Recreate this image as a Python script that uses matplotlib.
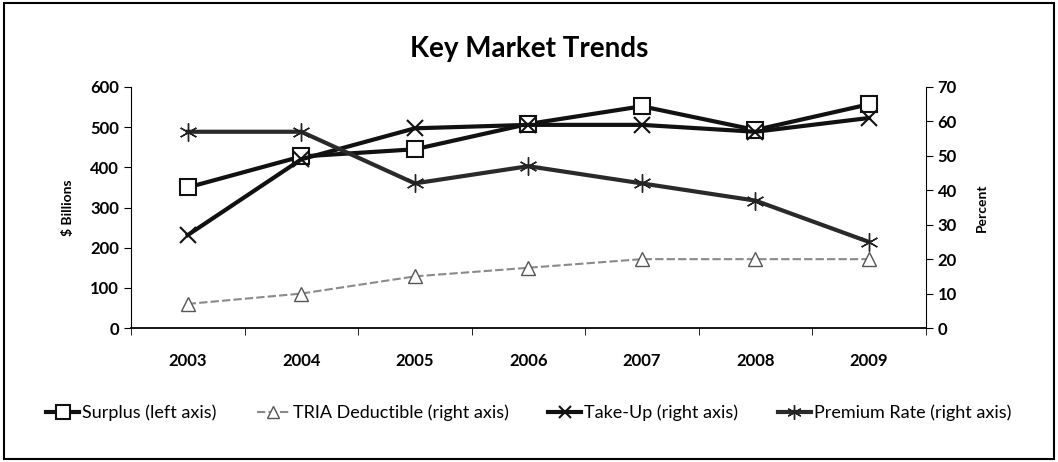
import numpy as np
import matplotlib.pyplot as plt
from matplotlib.patches import Rectangle

plt.rcParams['font.family'] = ['Lato', 'DejaVu Sans']

### Data ###
years = ['2003', '2004', '2005', '2006', '2007', '2008', '2009']
surplus = [350, 427, 445, 508, 552, 493, 557]          # $ billions, left axis
tria_deductible = [7, 10, 15, 17.5, 20, 20, 20]        # percent, right axis
take_up = [27, 49, 58, 59, 59, 57, 61]                 # percent, right axis
premium_rate = [57, 57, 42, 47, 42, 37, 25]            # percent, right axis

### Figure ###
fig = plt.figure(figsize=(10.58, 4.62), dpi=100)
fig.patches.append(Rectangle((0.004, 0.006), 0.992, 0.988, transform=fig.transFigure,
                             fill=False, edgecolor='black', linewidth=1.5))

ax = fig.add_axes([0.1238, 0.29, 0.7512, 0.5217])
ax2 = ax.twinx()
x = np.arange(len(years))

ax.plot(x, surplus, color='#111111', lw=3, marker='s', ms=12, mfc='white',
        mec='#111111', mew=1.5, label='Surplus (left axis)', zorder=5)
ax2.plot(x, tria_deductible, color='#8a8a8a', lw=1.5, ls=(0, (4, 1.5)), marker='^', ms=10,
         mfc='white', mec='#555555', mew=1, label='TRIA Deductible (right axis)')
ax2.plot(x, take_up, color='#111111', lw=3, marker='x', ms=11, mec='#111111', mew=1.5,
         label='Take-Up (right axis)')
ax2.plot(x, premium_rate, color='#2a2a2a', lw=3, marker=(6, 2, 0), ms=13, mec='#222222',
         mew=1, label='Premium Rate (right axis)')

ax.set_xlim(-0.5, len(years) - 0.5)
ax.set_ylim(0, 600)
ax2.set_ylim(0, 70)
ax.set_yticks(range(0, 601, 100))
ax2.set_yticks(range(0, 71, 10))

ax.set_xticks(x)
ax.set_xticklabels(years, fontsize=12, fontweight='bold')
ax.set_xticks(np.arange(-0.5, len(years) + 0.5, 1), minor=True)
ax.tick_params(axis='x', which='major', length=0, pad=18)
ax.tick_params(axis='x', which='minor', length=5, direction='out')
ax.tick_params(axis='y', labelsize=12, length=5)
ax2.tick_params(axis='y', labelsize=12, length=5)
for lab in ax.get_yticklabels() + ax2.get_yticklabels():
    lab.set_fontweight('bold')

for a in (ax, ax2):
    a.spines['top'].set_visible(False)
ax.spines['right'].set_visible(False)
ax2.spines['left'].set_visible(False)
ax2.spines['bottom'].set_visible(False)
ax.spines['bottom'].set_linewidth(1.3)

ax.set_ylabel('$ Billions', fontsize=10, fontweight='bold', labelpad=12)
ax2.set_ylabel('Percent', fontsize=10, fontweight='bold', labelpad=14)

fig.text(0.5, 0.895, 'Key Market Trends', ha='center', va='center', fontsize=20, fontweight='bold')

h1, l1 = ax.get_legend_handles_labels()
h2, l2 = ax2.get_legend_handles_labels()
fig.legend(h1 + h2, l1 + l2, loc='center', bbox_to_anchor=(0.5, 0.106), ncol=4, frameon=False,
           fontsize=13, handlelength=1.8, handletextpad=0.2, columnspacing=2.2, markerscale=0.8)

fig.savefig('out.png', dpi=100)
